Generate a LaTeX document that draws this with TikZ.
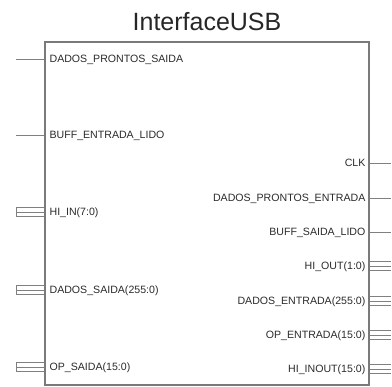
\documentclass[tikz,border=0pt]{standalone}
\usepackage{fontspec}
\setmainfont{Liberation Sans}
\usetikzlibrary{positioning,calc}
\definecolor{frame}{HTML}{7A7A7A}
\definecolor{wire}{HTML}{808080}
\definecolor{pintext}{HTML}{2A2A2A}
\tikzset{
  symbox/.style={draw=frame, line width=1.2pt, minimum width=324pt,
    minimum height=343pt, inner sep=0pt},
  titlelabel/.style={font=\fontsize{25}{30}\selectfont, text=black!85, inner sep=0pt},
  pinlabel/.style={font=\fontsize{10.6}{12}\selectfont, text=pintext, inner sep=0pt},
  wireline/.style={draw=wire, line width=0.9pt}
}

\begin{document}
\begin{tikzpicture}[x=1pt,y=-1pt]
  \useasboundingbox (0,0) rectangle (392,387);
  \node[symbox] (box) at (207,213.5) {};
  \node[titlelabel, above=10pt of box] (title) {InterfaceUSB};
  % entradas
  \foreach \y/\lab/\bus [count=\n] in {
    59/DADOS\_PRONTOS\_SAIDA/0,135/BUFF\_ENTRADA\_LIDO/0,212/HI\_IN(7:0)/1,
    290/DADOS\_SAIDA(255:0)/1,367/OP\_SAIDA(15:0)/1} {
    \coordinate (lp\n) at (box.west |- 0,\y);
    \coordinate (le\n) at (16,\y);
    \node[pinlabel, anchor=base west] (ll\n) at ($(lp\n)+(5,3.7)$) {\lab};
    \ifnum\bus=0
      \draw[wireline] (lp\n) -- (le\n);
    \else
      \draw[wireline] ($(lp\n)+(0,-4.5)$) -| ($(le\n)+(0,4.5)$) -- ($(lp\n)+(0,4.5)$);
      \draw[wireline] (lp\n) -- (le\n);
    \fi
  }
  % saidas
  \foreach \y/\lab/\bus [count=\n] in {
    163/CLK/0,198/DADOS\_PRONTOS\_ENTRADA/0,232/BUFF\_SAIDA\_LIDO/0,
    266/HI\_OUT(1:0)/1,301/DADOS\_ENTRADA(255:0)/1,335/OP\_ENTRADA(15:0)/1,
    369/HI\_INOUT(15:0)/1} {
    \coordinate (rp\n) at (box.east |- 0,\y);
    \coordinate (re\n) at (391,\y);
    \node[pinlabel, anchor=base east] (rl\n) at ($(rp\n)+(-4,3.7)$) {\lab};
    \ifnum\bus=0
      \draw[wireline] (rp\n) -- (re\n);
    \else
      \draw[wireline] ($(rp\n)+(0,-4.5)$) -- ($(re\n)+(0,-4.5)$);
      \draw[wireline] (rp\n) -- (re\n);
      \draw[wireline] ($(rp\n)+(0,4.5)$) -- ($(re\n)+(0,4.5)$);
    \fi
  }
\end{tikzpicture}
\end{document}
